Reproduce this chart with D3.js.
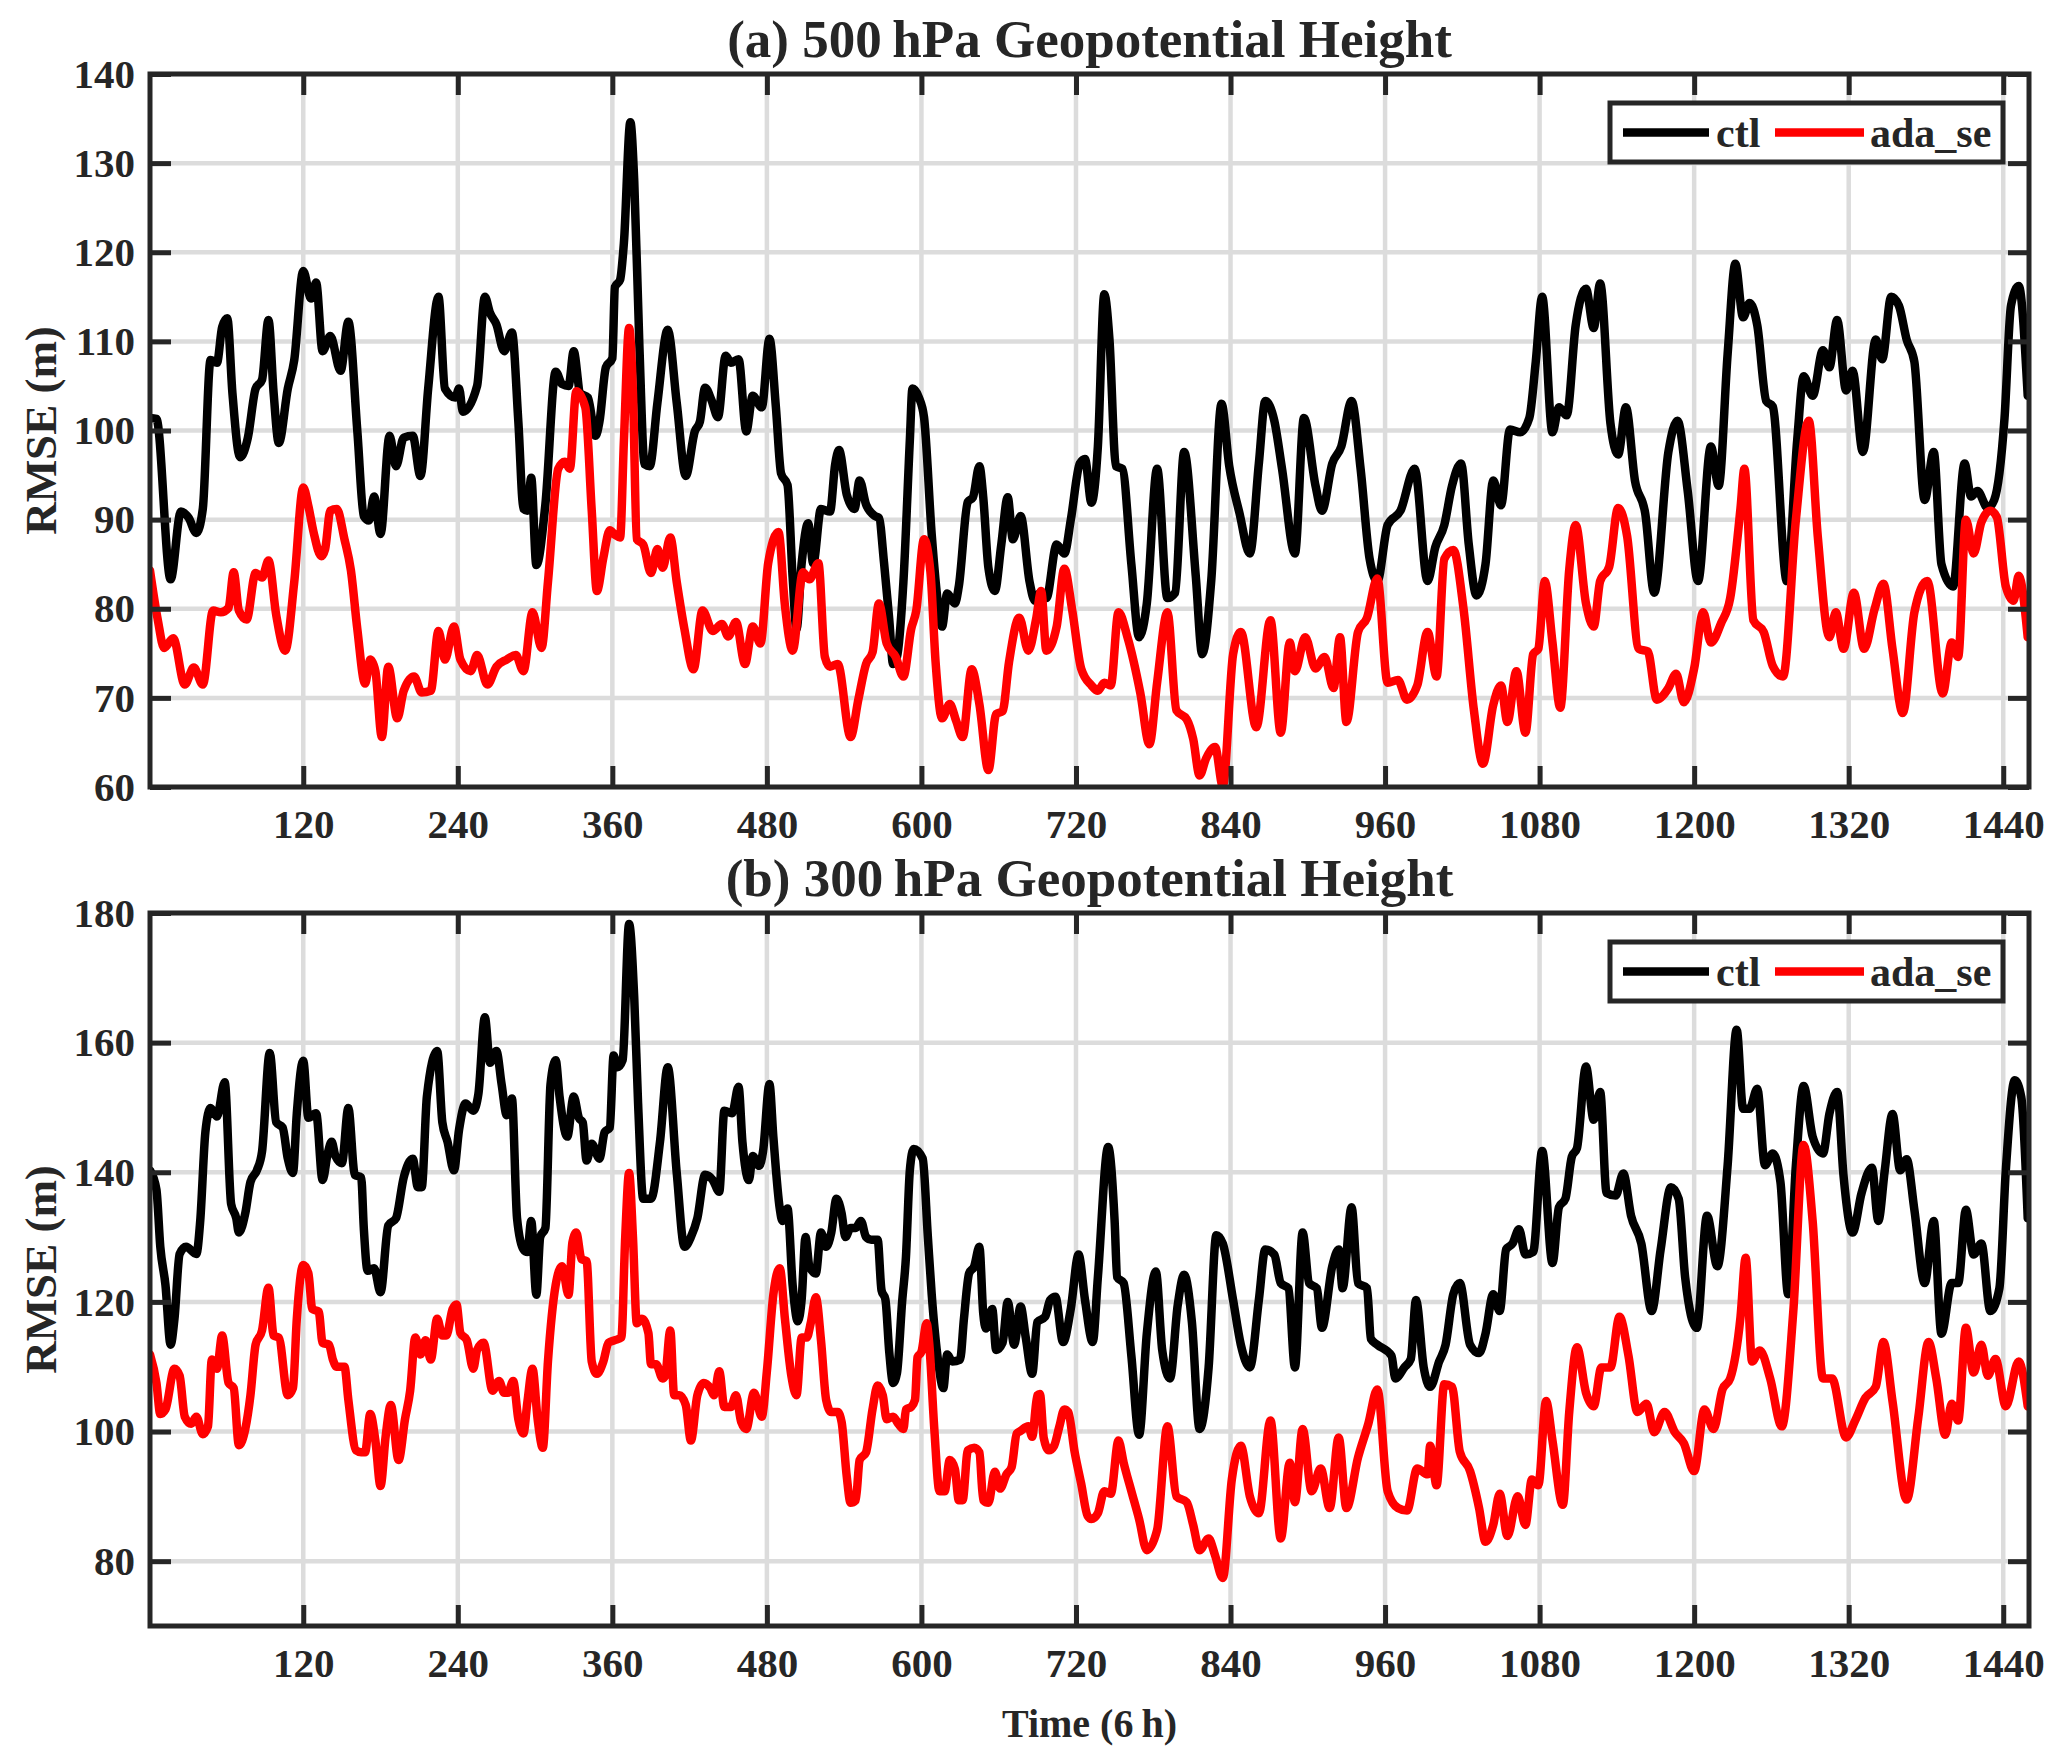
<!DOCTYPE html>
<meta charset="utf-8">
<script src="https://d3js.org/d3.v7.min.js"></script>
<style>
body { margin: 0; background: #fff; }
text { font-family: "Liberation Serif", "Times New Roman", serif; font-weight: bold; fill: #262626; }
.grid line { stroke: #dcdcdc; stroke-width: 4.5; }
.axis path { display: none; }
.axis line { stroke: #262626; stroke-width: 5; }
</style>
<body>
<script>

// time step (6 h) and RMSE (m) at turning points
var ctlA = [[1,101.4],[6,101.3],[17,83.3],[25,90.9],[31,90.2],[37,88.5],[42,91.2],[48,107.9],[53,107.6],[57,111.6],[61,112.6],[65,104.2],[71,97],[77,99.2],[83,104.7],[88,105.7],[93,112.4],[97,104.2],[101,98.6],[108,104.7],[113,107.9],[120,117.9],[126,114.8],[130,116.6],[135,108.9],[141,110.6],[149,106.7],[155,112.2],[162,99.9],[167,90.4],[171,89.9],[175,92.6],[180,88.4],[187,99.4],[192,96],[198,99.2],[205,99.4],[211,94.9],[217,104.7],[225,115],[230,104.7],[238,103.7],[241,104.7],[244,102.1],[255,105],[261,115],[265,113.2],[270,111.9],[276,108.9],[282,111],[287,101],[291,91.2],[294,91],[297,94.7],[301,84.9],[308,91.7],[316,106.6],[321,105.2],[326,105],[330,108.9],[335,104.2],[341,103.7],[347,99.4],[350,101],[355,107.1],[360,108.1],[362,116.1],[366,116.9],[369,121.1],[374,134.6],[377,128],[381,109.5],[385,96.2],[389,96],[395,103.1],[403,111.3],[410,103.1],[417,94.9],[424,99.9],[428,101],[432,104.8],[437,103.4],[442,101.5],[448,108.4],[452,107.6],[458,108],[464,99.9],[469,103.9],[476,102.6],[482,110.3],[487,102.6],[491,95.2],[496,93.9],[500,83.5],[503,77.7],[507,85.1],[512,89.6],[516,85.1],[522,91.2],[529,90.9],[533,96.2],[536,97.8],[542,92.8],[548,91.2],[552,94.4],[557,91.7],[564,90.4],[567,90.2],[571,85.1],[575,78.8],[578,73.8],[581,74.6],[586,83],[591,98.9],[593,104.7],[598,103.7],[602,101.5],[608,88.3],[613,80.4],[616,78],[620,81.7],[626,80.6],[629,82.5],[636,92],[640,92.5],[645,96],[648,92.5],[652,84.6],[657,82],[662,87.2],[667,92.5],[671,87.8],[677,90.4],[684,83],[688,80.9],[692,81.8],[697,81.2],[705,87.2],[711,86.2],[716,90],[723,96.3],[727,96.8],[732,91.9],[737,98.2],[742,115.3],[746,110.2],[751,96],[756,95.7],[763,85],[769,76.8],[775,80.6],[783,95.7],[791,81.2],[797,81.8],[804,97.6],[813,83.7],[818,74.9],[825,83.1],[833,103],[839,96],[847,90.7],[855,86.2],[862,96.3],[867,103.3],[874,101.1],[880,95.7],[890,86.2],[897,101.4],[906,93.8],[911,91],[919,96.3],[926,98.2],[934,103.3],[941,95.7],[948,85.6],[954,83.1],[962,89.4],[972,91],[983,95.7],[993,83.1],[999,86.9],[1006,89.4],[1012,93.8],[1019,96.3],[1025,87.2],[1031,81.5],[1038,85],[1044,94.4],[1050,91.6],[1057,100.1],[1065,99.8],[1072,101.4],[1077,107.7],[1082,115],[1090,99.8],[1095,102.6],[1101,101.7],[1108,111.8],[1116,115.9],[1122,111.5],[1127,116.5],[1135,100.8],[1141,97.3],[1147,102.6],[1154,94.4],[1162,90.7],[1169,81.8],[1180,97.6],[1187,101.1],[1195,93.2],[1203,83.1],[1213,98.2],[1219,93.8],[1226,108.6],[1232,118.7],[1238,112.7],[1243,114.3],[1249,111.8],[1256,103.3],[1261,102.7],[1272,83.1],[1280,98.9],[1285,106.1],[1292,103.9],[1300,109],[1305,107.1],[1311,112.4],[1318,104.5],[1323,106.7],[1331,97.6],[1341,110.2],[1346,108],[1353,115],[1359,114],[1365,110.2],[1371,107.7],[1379,92.2],[1386,97.6],[1392,85],[1401,82.5],[1410,96.3],[1415,92.6],[1420,93.2],[1428,91.3],[1433,92.2],[1441,101.4],[1446,114],[1452,116.2],[1459,103.9]];

var adaA = [[1,84.3],[7,78.8],[12,75.6],[19,76.7],[28,71.5],[35,73.4],[42,71.5],[50,79.8],[56,79.6],[62,80.1],[66,84.1],[70,79.8],[76,78.8],[83,84],[88,83.5],[93,85.4],[99,79.3],[106,75.3],[113,83],[120,93.6],[124,91.5],[128,88.6],[134,85.9],[137,86.7],[141,91],[146,91.2],[152,87.8],[157,84.3],[162,77.7],[168,71.6],[172,74.3],[176,73],[181,65.6],[186,73.5],[193,67.7],[198,70.8],[206,72.4],[212,70.6],[219,70.8],[225,77.5],[230,74.3],[237,78],[242,74.3],[250,73],[255,74.8],[263,71.5],[270,73.5],[278,74.3],[285,74.8],[291,73],[298,79.6],[305,75.6],[310,83],[318,95.7],[323,96.5],[327,95.7],[332,104.4],[339,102.6],[344,91],[348,82],[353,85.7],[358,88.8],[362,88.3],[366,88],[369,98.9],[373,111.5],[376,104.2],[379,87.8],[384,87.2],[390,84],[395,86.7],[399,84.6],[405,88],[410,83],[416,77.7],[423,73.2],[430,79.8],[438,77.5],[445,78.3],[450,76.9],[456,78.5],[463,73.8],[469,78],[475,76.1],[481,85.1],[489,88.6],[494,80.4],[500,75.3],[508,84.1],[513,83.3],[520,85.1],[525,74.6],[529,73.5],[535,73.8],[545,65.6],[551,69.8],[557,73.8],[562,75.1],[567,80.6],[573,76.1],[580,74.6],[586,72.4],[592,77.7],[596,79.8],[602,87.8],[607,84.1],[611,74],[616,67.7],[622,69.3],[627,67.4],[632,65.6],[639,73.2],[645,69.3],[652,61.9],[658,68.2],[663,68.5],[668,74],[676,79],[683,75.3],[689,78.8],[693,82],[697,75.3],[705,78],[711,84.5],[717,79.9],[724,73.3],[732,71.4],[737,70.8],[742,71.7],[747,71.4],[753,79.6],[760,76.8],[770,70.5],[777,64.8],[783,71.7],[791,79.6],[798,68.6],[806,67.6],[811,65.4],[816,61.3],[821,63.2],[828,64.5],[834,60.1],[842,74.9],[848,77.4],[860,66.7],[871,78.7],[879,66.1],[886,76.2],[890,73],[898,76.8],[906,73.3],[913,74.6],[920,71.1],[925,76.8],[930,67.3],[939,77.4],[946,79],[954,83.4],[962,71.7],[970,72],[977,69.8],[985,71.4],[993,77.4],[1000,72.4],[1006,85.6],[1013,86.6],[1021,79.9],[1029,68.6],[1036,62.6],[1044,69.2],[1050,71.4],[1055,67.3],[1062,73],[1069,66.1],[1075,74.9],[1079,75.5],[1084,83.1],[1090,76.2],[1096,68.9],[1103,84.4],[1108,89.4],[1116,80.6],[1122,78],[1127,83.1],[1134,84.7],[1141,91.3],[1148,88.1],[1157,75.5],[1164,75.2],[1171,69.8],[1180,71.1],[1186,72.7],[1192,69.5],[1200,73.3],[1207,79.6],[1213,76.2],[1221,78.4],[1228,81.2],[1236,91.3],[1239,95.7],[1246,78.7],[1254,77.4],[1261,73.6],[1269,72.4],[1279,90],[1289,101.1],[1296,88.1],[1305,76.8],[1310,79.6],[1316,75.5],[1324,81.8],[1332,75.5],[1340,79.9],[1347,82.8],[1354,75.5],[1362,68.3],[1371,79.6],[1381,83.1],[1393,70.5],[1400,76.2],[1405,74.6],[1411,90],[1417,86.2],[1423,89.7],[1430,91],[1435,90.3],[1442,82.5],[1448,80.9],[1452,83.7],[1459,76.8]];

var ctlB = [[1,140.3],[6,137.3],[9,128.5],[13,122.6],[17,113.4],[20,117.4],[24,127.4],[29,128.5],[37,127.4],[40,132.5],[44,146.2],[48,149.9],[53,148.6],[59,153.9],[64,135.1],[68,132.9],[70,130.7],[75,133.7],[79,138.5],[84,140.3],[88,143.2],[94,158.4],[99,147.7],[104,146.9],[108,142.1],[112,139.9],[115,149.1],[120,157.2],[124,148.4],[130,149.1],[135,138.8],[139,142.9],[142,144.7],[145,142.5],[150,141.4],[155,149.9],[160,139.6],[165,139.2],[167,131.4],[170,124.8],[175,125.2],[180,121.5],[186,131.8],[192,132.9],[198,139.2],[205,142.1],[209,137.7],[212,137.7],[216,151.7],[224,158.7],[228,147.7],[232,144.7],[237,140.3],[241,146.6],[246,150.6],[252,149.5],[256,152.1],[261,163.9],[265,156.9],[270,158.7],[274,153.6],[278,148.8],[282,151.4],[286,132.9],[291,128.1],[294,127.7],[297,132.5],[301,121.1],[304,130],[308,131.4],[312,153.6],[316,157.3],[319,151.7],[325,145.5],[330,151.7],[334,148.4],[337,147.7],[340,141.8],[344,144.4],[350,142.1],[354,146.2],[358,146.9],[361,158],[364,156.2],[368,157.3],[373,178.3],[377,166.9],[380,150.6],[384,135.9],[390,135.9],[397,144.7],[403,156.2],[410,139.9],[416,128.5],[421,130],[426,132.9],[432,139.6],[438,138.8],[443,137],[447,149.5],[453,149.1],[458,153.2],[461,144.7],[466,138.8],[469,142.5],[474,141],[477,143.2],[482,153.6],[485,145.5],[490,134.4],[492,132.5],[496,134.4],[500,122.6],[504,117],[507,120.4],[510,130],[513,125.5],[518,124.4],[522,130.7],[526,128.5],[530,130.7],[534,135.9],[538,133.7],[541,130],[545,131.4],[549,131.4],[553,132.5],[557,130],[561,129.6],[566,129.6],[569,121.8],[572,120.4],[575,112.3],[578,107.5],[581,109],[585,120],[588,127],[591,140.3],[594,143.6],[601,142.1],[605,130],[608,121.1],[613,110.8],[617,106.7],[620,111.9],[624,110.8],[630,111.1],[633,117.4],[637,124.4],[641,125.5],[645,128.5],[648,118.2],[650,115.9],[655,118.9],[658,112.6],[663,113.7],[667,120],[672,113.4],[677,119.3],[681,114.5],[686,108.9],[690,116.9],[696,117.7],[700,120.3],[704,120.8],[710,113.8],[716,119],[722,127.3],[727,120.3],[733,113.8],[737,123.8],[745,143.9],[750,132.5],[752,123.8],[757,122.9],[763,111.7],[769,99.5],[775,115.1],[782,124.7],[787,112.5],[793,108.2],[799,119.5],[804,124.2],[810,116.9],[816,100.4],[823,109.9],[829,130.3],[834,129],[842,120.3],[848,113.4],[855,109.9],[862,120.3],[867,128.1],[874,127.3],[879,122.9],[885,122.1],[890,109.9],[896,130.7],[901,122.9],[907,122.1],[911,116],[919,125.5],[924,128.1],[927,122.1],[934,134.6],[939,122.9],[946,122.1],[949,114.3],[954,113.4],[965,111.7],[968,108.2],[975,109.9],[980,111.2],[984,120.3],[990,109.9],[995,106.9],[1002,110.8],[1007,113.4],[1013,121.2],[1018,122.9],[1026,113.4],[1033,112.1],[1038,115.1],[1044,121.2],[1049,118.6],[1054,128.1],[1059,129],[1064,131.2],[1069,127.3],[1075,127.7],[1082,143.3],[1090,126],[1095,134.6],[1100,135.9],[1105,142.4],[1109,143.7],[1116,156.3],[1122,148.1],[1127,152.4],[1132,136.8],[1139,136.4],[1145,139.8],[1151,133.3],[1159,129],[1167,118.6],[1174,128.1],[1182,137.7],[1188,135.9],[1193,123.8],[1202,116],[1210,133.3],[1218,125.5],[1226,141.1],[1233,162],[1238,149.8],[1243,149.8],[1249,152.9],[1255,141.1],[1261,142.9],[1267,138.5],[1273,121.2],[1279,141.1],[1285,153.3],[1292,145.5],[1300,142.9],[1305,149],[1311,152.4],[1316,139.4],[1323,130.7],[1330,136.8],[1338,140.7],[1343,132.5],[1348,140.3],[1354,149],[1360,140.3],[1365,142],[1371,134.2],[1379,122.9],[1386,132.5],[1392,115.1],[1400,122.9],[1405,122.9],[1411,134.2],[1417,127.3],[1423,129],[1430,118.6],[1437,122.1],[1442,140.3],[1449,154.2],[1454,151.6],[1459,132.9]];

var adaB = [[1,111.9],[6,107.5],[9,102.7],[13,103.4],[20,109.7],[24,108.6],[28,102.3],[33,101.2],[37,102.3],[42,99.6],[46,100.8],[49,111.1],[53,109.7],[57,114.8],[62,107.5],[66,106.7],[70,97.9],[75,100.4],[79,105.6],[83,113.4],[88,115.6],[93,122.2],[97,114.8],[101,114.5],[108,105.6],[112,106.7],[115,117.4],[120,125.7],[124,124.4],[127,118.9],[132,118.5],[135,113.7],[140,113.4],[143,111.1],[146,110],[152,110],[155,104.9],[161,97.1],[165,96.8],[168,96.8],[172,102.7],[176,98.6],[180,91.6],[184,99.3],[188,104.1],[194,95.6],[199,101.9],[203,106.3],[207,114.5],[211,111.9],[215,114.1],[219,111.1],[224,117.4],[228,114.8],[231,114.8],[236,118.9],[239,119.6],[242,115.2],[247,114.1],[252,109.7],[255,112.6],[260,113.7],[267,106.3],[272,107.8],[276,106],[279,106],[283,107.8],[287,101.9],[291,99.7],[294,104.5],[298,109.7],[302,101.9],[306,97.5],[310,110.8],[316,122.6],[321,125.5],[326,121.1],[329,129.2],[332,130.7],[336,126.6],[340,126.3],[344,110.8],[348,108.9],[353,110.8],[357,113.7],[362,114.1],[367,114.5],[370,130],[373,139.9],[376,130],[379,116.7],[383,117.4],[388,115.2],[390,110.4],[394,110.4],[399,108.2],[401,108.6],[405,115.6],[408,105.6],[412,105.6],[417,104.1],[421,98.6],[426,105.6],[431,107.5],[436,106.7],[439,105.6],[443,109.3],[447,103.8],[452,103.8],[456,105.6],[460,101.5],[464,100.4],[470,106],[476,102.3],[480,109.3],[485,121.1],[490,125.2],[494,117.4],[499,108.6],[503,105.6],[507,114.5],[511,114.5],[514,116.7],[518,120.7],[522,114.1],[526,104.9],[530,103],[535,103],[538,101.5],[542,93.1],[545,89],[549,89.4],[552,95.6],[557,96.8],[562,103.4],[566,107.1],[570,105.6],[573,101.9],[578,102.3],[582,101.2],[586,100.4],[588,103.4],[592,103.8],[595,104.9],[597,111.5],[600,112.3],[604,116.7],[606,113.7],[610,100.4],[614,90.8],[618,90.8],[622,95.6],[626,94.2],[629,89.4],[632,89.4],[636,97.1],[641,97.5],[645,96.8],[648,89.4],[652,89],[657,93.8],[661,91.2],[666,93.4],[670,94.5],[674,99.7],[677,100.1],[683,100.8],[686,99.2],[690,105.6],[692,105.8],[695,99],[699,97.1],[703,97.8],[707,100.7],[711,103.4],[714,103],[719,96.8],[724,92],[729,87],[732,86.5],[737,87.4],[742,90.8],[747,90.4],[753,98.6],[757,95.2],[763,90.8],[769,86.5],[775,81.7],[783,84.8],[791,100.8],[798,90],[806,89.1],[811,85.6],[816,81.7],[823,83.5],[828,80.9],[834,77.4],[841,92.6],[848,97.8],[855,90],[862,87.4],[871,101.7],[879,83.5],[886,95.2],[890,89.1],[896,100.4],[903,90.8],[910,94.3],[917,88.2],[924,99.1],[930,88.2],[939,96],[947,101.2],[954,106.5],[962,90.8],[970,88.2],[977,87.8],[985,94.3],[993,93.4],[995,97.8],[1000,91.7],[1006,107.3],[1012,106.9],[1018,96.9],[1026,93.9],[1033,88.2],[1038,83],[1044,85.6],[1049,90.4],[1055,83.9],[1063,90],[1069,85.6],[1074,92.6],[1079,91.7],[1085,104.7],[1090,98.6],[1098,88.7],[1103,103],[1109,113],[1116,106],[1122,103.9],[1128,109.9],[1135,109.9],[1142,117.7],[1149,111.7],[1156,103],[1163,104.3],[1169,99.9],[1177,103],[1185,99.9],[1192,98.2],[1200,93.9],[1208,103.4],[1215,100.4],[1222,106.5],[1228,108.2],[1236,117.7],[1240,126.8],[1245,110.8],[1251,112.5],[1259,108.2],[1268,100.8],[1277,118.6],[1285,144.2],[1292,132.5],[1300,108.2],[1307,108.2],[1318,99.1],[1325,101.7],[1333,105.2],[1341,106.9],[1347,113.8],[1354,104.7],[1365,89.5],[1374,102.1],[1382,113.8],[1388,108.2],[1395,99.5],[1400,104.3],[1405,101.7],[1411,116],[1417,109.1],[1423,113.4],[1428,108.6],[1434,111.2],[1442,103.9],[1452,110.8],[1459,103.9]];

var xTicks = [120, 240, 360, 480, 600, 720, 840, 960, 1080, 1200, 1320, 1440];
var yTicksA = [60, 70, 80, 90, 100, 110, 120, 130, 140];
var yTicksB = [80, 100, 120, 140, 160, 180];
var seriesNames = ["ctl", "ada_se"];
var seriesColors = ["#000000", "#ff0000"];

var W = 2067, H = 1762;
var left = 150, right = 2029, panelH = 713;
var width = right - left;
var fmt = d3.format("d");

var svg = d3.select("body").append("svg")
    .attr("width", W)
    .attr("height", H);

svg.append("rect").attr("width", W).attr("height", H).attr("fill", "#fff");

var panels = [
  {id: "a", top: 74, title: "(a) 500\u2009hPa Geopotential Height", series: [ctlA, adaA], yDomain: [60, 140], yTicks: yTicksA},
  {id: "b", top: 913, title: "(b) 300\u2009hPa Geopotential Height", series: [ctlB, adaB], yDomain: [70, 180], yTicks: yTicksB}
];

var x = d3.scaleLinear().domain([1, 1460]).range([0, width]);

panels.forEach(function(p) {
  var y = d3.scaleLinear().domain(p.yDomain).range([panelH, 0]);
  var g = svg.append("g").attr("transform", "translate(" + left + "," + p.top + ")");

  g.append("clipPath").attr("id", "clip-" + p.id)
    .append("rect").attr("width", width).attr("height", panelH);

  // grid
  g.append("g").attr("class", "grid")
    .selectAll("line.v").data(xTicks).enter().append("line")
    .attr("x1", function(d) { return x(d); }).attr("x2", function(d) { return x(d); })
    .attr("y1", 0).attr("y2", panelH);
  g.append("g").attr("class", "grid")
    .selectAll("line.h").data(p.yTicks).enter().append("line")
    .attr("y1", function(d) { return y(d); }).attr("y2", function(d) { return y(d); })
    .attr("x1", 0).attr("x2", width);

  // lines
  var line = d3.line()
    .x(function(d) { return x(d[0]); })
    .y(function(d) { return y(d[1]); })
    .curve(d3.curveMonotoneX);

  g.append("g").attr("clip-path", "url(#clip-" + p.id + ")")
    .selectAll("path").data(p.series).enter().append("path")
    .attr("d", line)
    .attr("fill", "none")
    .attr("stroke", function(d, i) { return seriesColors[i]; })
    .attr("stroke-width", 8.5)
    .attr("stroke-linejoin", "round")
    .attr("stroke-linecap", "round");

  // axes, ticks pointing inward
  g.append("g").attr("class", "axis").attr("transform", "translate(0," + panelH + ")")
    .call(d3.axisBottom(x).tickValues(xTicks).tickSize(-21).tickSizeOuter(0).tickPadding(22).tickFormat(fmt));
  g.append("g").attr("class", "axis")
    .call(d3.axisTop(x).tickValues(xTicks).tickSize(-21).tickSizeOuter(0).tickFormat(""));
  g.append("g").attr("class", "axis")
    .call(d3.axisLeft(y).tickValues(p.yTicks).tickSize(-21).tickSizeOuter(0).tickPadding(15).tickFormat(fmt));
  g.append("g").attr("class", "axis").attr("transform", "translate(" + width + ",0)")
    .call(d3.axisRight(y).tickValues(p.yTicks).tickSize(-21).tickSizeOuter(0).tickFormat(""));
  g.selectAll(".axis text").style("font-size", "41px").attr("fill", "#262626");

  g.append("rect")
    .attr("width", width).attr("height", panelH)
    .attr("fill", "none").attr("stroke", "#262626").attr("stroke-width", 5);

  // title
  g.append("text")
    .attr("x", width / 2).attr("y", -17)
    .attr("text-anchor", "middle")
    .style("font-size", "53px")
    .text(p.title);

  // y label
  svg.append("text")
    .attr("transform", "translate(40," + (p.top + panelH / 2) + ") rotate(-90)")
    .attr("text-anchor", "middle")
    .attr("dy", "0.35em")
    .style("font-size", "45px")
    .text("RMSE (m)");

  // legend
  var lw = 393, lh = 59;
  var lg = g.append("g").attr("transform", "translate(" + (width - 26 - lw) + ",29)");
  lg.append("rect").attr("width", lw).attr("height", lh)
    .attr("fill", "#fff").attr("stroke", "#262626").attr("stroke-width", 5);
  var items = [{x0: 13, x1: 99, tx: 106}, {x0: 165, x1: 254, tx: 260}];
  items.forEach(function(it, i) {
    lg.append("line").attr("x1", it.x0).attr("x2", it.x1)
      .attr("y1", lh / 2).attr("y2", lh / 2)
      .attr("stroke", seriesColors[i]).attr("stroke-width", 8.5);
    lg.append("text").attr("x", it.tx).attr("y", lh / 2).attr("dy", "0.35em")
      .style("font-size", "42px").text(seriesNames[i]);
  });
});

svg.append("text")
  .attr("x", left + width / 2).attr("y", 1737)
  .attr("text-anchor", "middle")
  .style("font-size", "40px")
  .text("Time (6\u2009h)");

</script>
</body>
</html>
